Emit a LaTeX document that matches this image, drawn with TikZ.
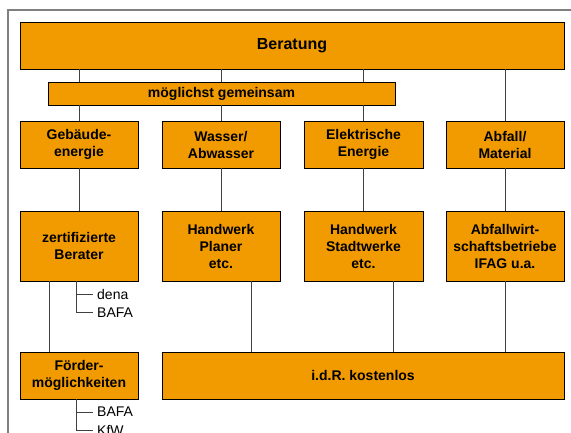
\documentclass[tikz,border=0pt]{standalone}
\usepackage{fontspec}
\setmainfont{Liberation Sans}
\usetikzlibrary{shadows}
\definecolor{boxorange}{HTML}{F29B00}
\definecolor{linegray}{HTML}{404040}
\definecolor{framegray}{HTML}{808080}
\tikzset{
  obox/.style={draw=black, line width=0.8pt, fill=boxorange, inner sep=0pt,
    align=center, font=\fontsize{14}{17}\selectfont\bfseries,
    drop shadow={shadow xshift=1.2pt, shadow yshift=-1.2pt, fill=gray!70, opacity=1}},
  conn/.style={draw=linegray, line width=0.9pt},
  small/.style={font=\fontsize{14}{17}\selectfont, inner sep=0pt, anchor=west}
}
\begin{document}
\begin{tikzpicture}[x=1pt,y=-1pt]
\useasboundingbox (0,0) rectangle (571,432);
\clip (0,0) rectangle (571,432);
\draw[framegray, line width=1.2pt] (8,440) -- (8,10) -- (580,10);

% boxes
\node[obox, minimum width=544pt, minimum height=47pt, font=\fontsize{16}{19}\selectfont\bfseries] (ber) at (292,45.5) {Beratung};
\node[obox, minimum width=347pt, minimum height=23pt] (mog) at (221.5,93.5) {möglichst gemeinsam};

\node[obox, minimum width=118pt, minimum height=47pt] (geb) at (79,144.5) {Gebäude-\\energie};
\node[obox, minimum width=118pt, minimum height=47pt] (was) at (221,144.5) {Wasser/\\Abwasser};
\node[obox, minimum width=119pt, minimum height=47pt] (ele) at (363.5,144.5) {Elektrische\\Energie};
\node[obox, minimum width=118pt, minimum height=47pt] (abf) at (505,144.5) {Abfall/\\Material};

\node[obox, minimum width=118pt, minimum height=70pt] (zer) at (79,246) {zertifizierte\\Berater};
\node[obox, minimum width=118pt, minimum height=70pt] (hwp) at (221,246) {Handwerk\\Planer\\etc.};
\node[obox, minimum width=119pt, minimum height=70pt] (hws) at (363.5,246) {Handwerk\\Stadtwerke\\etc.};
\node[obox, minimum width=118pt, minimum height=70pt] (afw) at (505,246) {Abfallwirt-\\schaftsbetriebe\\IFAG u.a.};

\node[obox, minimum width=118pt, minimum height=47pt] (foe) at (79,375.5) {Förder-\\möglichkeiten};
\node[obox, minimum width=402pt, minimum height=47pt] (kos) at (363,375.5) {i.d.R. kostenlos};

% connectors
\draw[conn] (ber.south -| geb.north) -- (mog.north -| geb.north);
\draw[conn] (ber.south -| was.north) -- (mog.north -| was.north);
\draw[conn] (ber.south -| ele.north) -- (mog.north -| ele.north);
\draw[conn] (mog.south -| geb.north) -- (geb.north);
\draw[conn] (mog.south -| was.north) -- (was.north);
\draw[conn] (mog.south -| ele.north) -- (ele.north);
\draw[conn] (ber.south -| abf.north) -- (abf.north);

\draw[conn] (geb.south) -- (zer.north);
\draw[conn] (was.south) -- (hwp.north);
\draw[conn] (ele.south) -- (hws.north);
\draw[conn] (abf.south) -- (afw.north);

\coordinate (z1) at ([xshift=30pt]zer.south west);
\coordinate (h1) at ([xshift=30pt]hwp.south);
\coordinate (h2) at ([xshift=30pt]hws.south);
\draw[conn] (z1) -- (z1 |- foe.north);
\draw[conn] (h1) -- (h1 |- kos.north);
\draw[conn] (h2) -- (h2 |- kos.north);
\draw[conn] (afw.south) -- (afw.south |- kos.north);

% sub lists
\coordinate (b1) at ([xshift=57pt]zer.south west);
\node[small] (dena) at (97,294) {dena};
\node[small] (bafa1) at (97,312.5) {BAFA};
\draw[conn] (b1) -- (b1 |- bafa1.west) -- ([xshift=-4pt]bafa1.west);
\draw[conn] (b1 |- dena.west) -- ([xshift=-4pt]dena.west);

\coordinate (b2) at ([xshift=57pt]foe.south west);
\node[small] (bafa2) at (97,412) {BAFA};
\node[small] (kfw) at (97,430.5) {KfW};
\draw[conn] (b2) -- (b2 |- kfw.west) -- ([xshift=-4pt]kfw.west);
\draw[conn] (b2 |- bafa2.west) -- ([xshift=-4pt]bafa2.west);
\end{tikzpicture}
\end{document}
